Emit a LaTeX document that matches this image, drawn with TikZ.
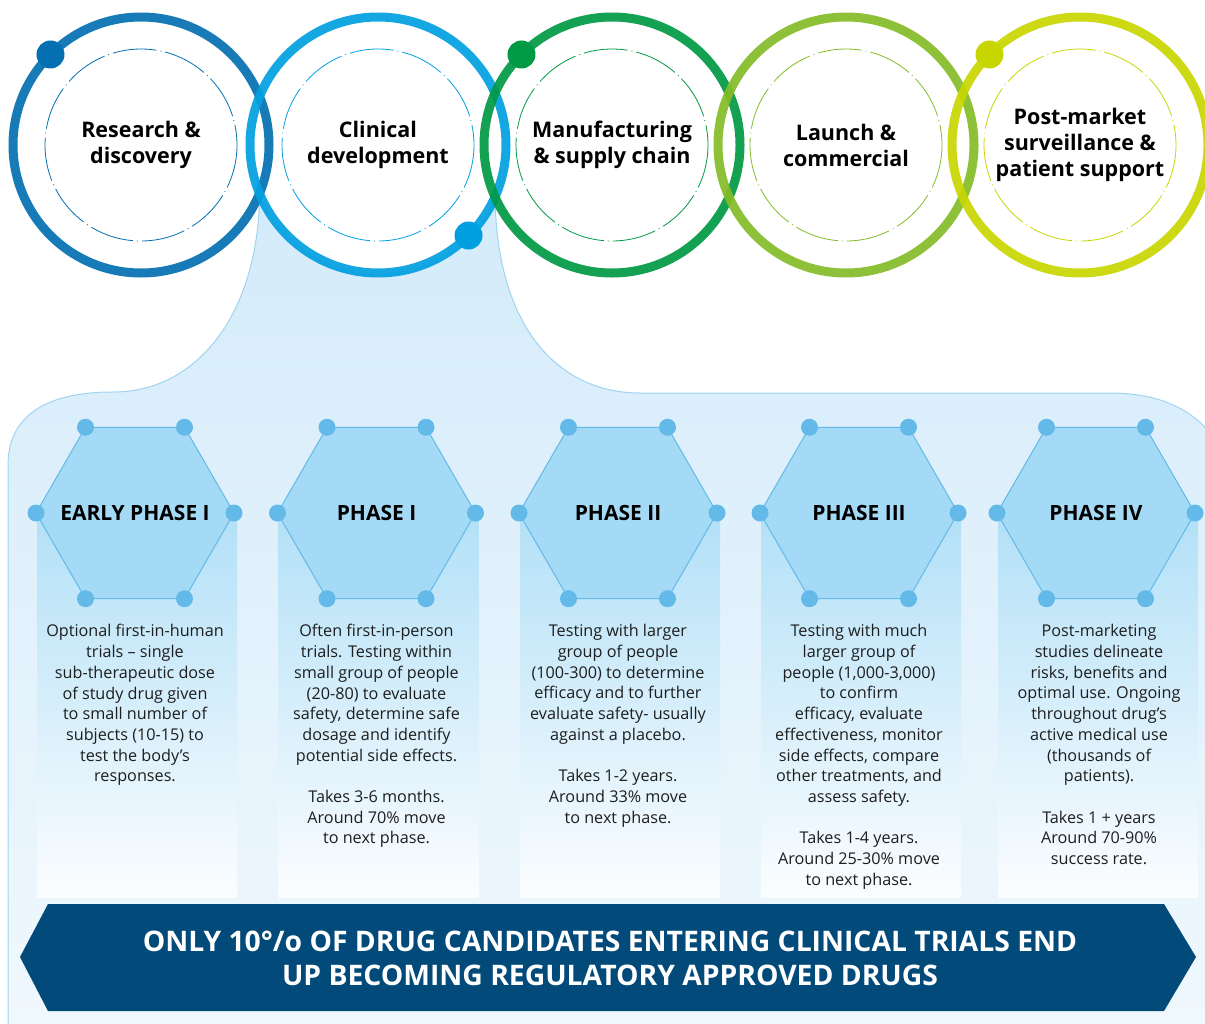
\documentclass[tikz,border=0pt]{standalone}
\usepackage{fontspec}
\setmainfont{Open Sans}
\usetikzlibrary{shapes.geometric}

\definecolor{ringA}{RGB}{4,112,178}
\definecolor{ringB}{RGB}{0,160,224}
\definecolor{ringC}{RGB}{0,153,68}
\definecolor{ringD}{RGB}{132,188,40}
\definecolor{ringE}{RGB}{200,214,0}
\definecolor{hexfill}{RGB}{165,218,246}
\definecolor{hexline}{RGB}{99,185,232}
\definecolor{bgtop}{RGB}{212,235,250}
\definecolor{bgbot}{RGB}{240,248,253}
\definecolor{bgline}{RGB}{160,212,240}
\definecolor{coltop}{RGB}{178,224,247}
\definecolor{colbot}{RGB}{251,253,255}
\definecolor{navy}{RGB}{2,74,122}
\definecolor{txt}{RGB}{30,30,30}

\begin{document}
\begin{tikzpicture}[x=1pt, y=-1pt, node distance={234pt},
    stage/.style = {circle, fill=white, minimum size=256pt, inner sep=0pt, outer sep=0pt, align=center, font=\fontsize{21.5}{26}\selectfont\bfseries},
    ring/.style = {line width=9pt, draw opacity=0.92},
    inner/.style = {line width=0.8pt, dash pattern=on 44pt off 4pt on 1pt off 4pt},
    hexa/.style = {regular polygon, regular polygon sides=6, minimum size=198pt, inner sep=0pt, outer sep=0pt, fill=hexfill, draw=hexline, line width=1pt, label={[font=\fontsize{21}{24}\selectfont\bfseries]center:#1}},
    col/.style = {top color=coltop, bottom color=colbot},
    desc/.style = {anchor=north, align=center, text=txt, font=\fontsize{16.2}{20.7}\selectfont}]
\useasboundingbox (0,0) rectangle (1205,1023);
\clip (0,0) rectangle (1205,1023);

% light blue backdrop
\path[top color=bgtop, bottom color=bgbot, draw=bgline, line width=1pt]
  (259.5,197) .. controls (258,310) and (200,392) .. (113,392)
  .. controls (40,392) and (8,420) .. (8,465) -- (8,1040) -- (1230,1040) -- (1230,470)
  .. controls (1210,410) and (1160,393) .. (1110,393) -- (640,393)
  .. controls (560,393) and (497,330) .. (495,197) -- cycle;

% columns
\fill[col] (37,513) rectangle (237,897);
\fill[col] (278.5,513) rectangle (478.5,897);
\fill[col] (520,513) rectangle (720,897);
\fill[col] (761,513) rectangle (961,897);
\fill[col] (998,513) rectangle (1198,897);

% phases
\node[hexa=EARLY PHASE I] (p1) at (135,513) {};
\node[hexa=PHASE I] (p2) at (376.5,513) {};
\node[hexa=PHASE II] (p3) at (618,513) {};
\node[hexa=PHASE III] (p4) at (859,513) {};
\node[hexa=PHASE IV] (p5) at (1096,513) {};
\foreach \p in {p1,p2,p3,p4,p5}
  \foreach \k in {1,...,6}
    \fill[hexline] (\p.corner \k) circle (8.5);

\node[desc] (t1) at (135,621) {Optional first-in-human\\trials -- single\\sub-therapeutic dose\\of study drug given\\to small number of\\subjects (10-15) to\\test the body's\\responses.};
\node[desc] (t2) at (376.5,621) {Often first-in-person\\trials. Testing within\\small group of people\\(20-80) to evaluate\\safety, determine safe\\dosage and identify\\potential side effects.\\[20.7pt]Takes 3-6 months.\\Around 70\% move\\to next phase.};
\node[desc] (t3) at (618,621) {Testing with larger\\group of people\\(100-300) to determine\\efficacy and to further\\evaluate safety- usually\\against a placebo.\\[20.7pt]Takes 1-2 years.\\Around 33\% move\\to next phase.};
\node[desc] (t4) at (859,621) {Testing with much\\larger group of\\people (1,000-3,000)\\to confirm\\efficacy, evaluate\\effectiveness, monitor\\side effects, compare\\other treatments, and\\assess safety.\\[20.7pt]Takes 1-4 years.\\Around 25-30\% move\\to next phase.};
\node[desc] (t5) at (1099,621) {Post-marketing\\studies delineate\\risks, benefits and\\optimal use. Ongoing\\throughout drug's\\active medical use\\(thousands of\\patients).\\[20.7pt]Takes 1 + years\\Around 70-90\%\\success rate.};

% banner
\fill[navy] (20,957) -- (48,904) -- (1164,904) -- (1196,957) -- (1164,1011) -- (48,1011) -- cycle;
\node[align=center, text=white, font=\fontsize{28.3}{34}\selectfont\bfseries] (note) at (610,958) {ONLY 10°/o OF DRUG CANDIDATES ENTERING CLINICAL TRIALS END\\UP BECOMING REGULATORY APPROVED DRUGS};

% stages
\node[stage] (c1) at (141,145) {Research \&\\discovery};
\node[stage] (c2) [right of=c1, node distance=237pt] {Clinical\\development};
\node[stage] (c3) [right of=c2] {Manufacturing\\\& supply chain};
\node[stage] (c4) [right of=c3] {Launch \&\\commercial};
\node[stage] (c5) [right of=c4] {Post-market\\surveillance \&\\patient support};
\draw[ring, ringA] (c1) circle (128);
\draw[ring, ringB] (c2) circle (128);
\draw[ring, ringC] (c3) circle (128);
\draw[ring, ringD] (c4) circle (128);
\draw[ring, ringE] (c5) circle (128);
\draw[inner, ringA] (c1) circle (96);
\draw[inner, ringB] (c2) circle (96);
\draw[inner, ringC] (c3) circle (96);
\draw[inner, ringD] (c4) circle (96);
\draw[inner, ringE] (c5) circle (96);
\fill[ringA] (c1.135) circle (14);
\fill[ringB] (c2.-45) circle (14);
\fill[ringC] (c3.135) circle (14);
\fill[ringE] (c5.135) circle (14);
\end{tikzpicture}
\end{document}
